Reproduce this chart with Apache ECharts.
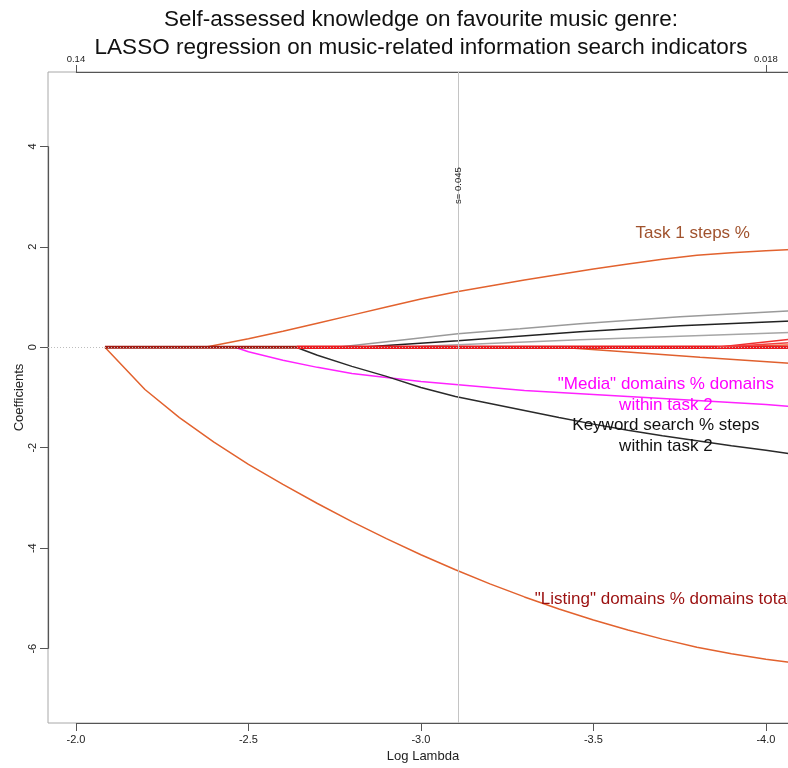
<!DOCTYPE html>
<html><head><meta charset="utf-8">
<script src="https://cdn.jsdelivr.net/npm/echarts@6/dist/echarts.min.js"></script>
<style>html,body{margin:0;padding:0;background:#fff;overflow:hidden;width:788px;height:768px}#c{width:798px;height:768px}</style>
</head><body><div id="c"></div>
<script>
// ---- text ----
const titleLines = ['Self-assessed knowledge on favourite music genre:', 'LASSO regression on music-related information search indicators'];
const xName = 'Log Lambda';
const yName = 'Coefficients';
// ---- axes ----
const xTicks = [-2.0, -2.5, -3.0, -3.5, -4.0];
const topTicks = [-2.0, -4.0];
const topTickLabels = ['0.14', '0.018'];
const yTicks = [-6, -4, -2, 0, 2, 4];
const xRange = [-4.093, -1.919];
const yRange = [-7.48, 5.48];
const sLogLambda = -3.108;
const sText = 's= 0.045';
// ---- coefficient paths (log lambda, coefficient) ----
const listingX = [-2.084,-2.2,-2.3,-2.4,-2.5,-2.6,-2.7,-2.8,-2.9,-3.0,-3.1,-3.2,-3.3,-3.4,-3.5,-3.6,-3.7,-3.8,-3.9,-4.0,-4.09];
const listingY = [0,-0.84,-1.40,-1.89,-2.33,-2.73,-3.11,-3.47,-3.81,-4.13,-4.43,-4.71,-4.97,-5.21,-5.43,-5.63,-5.81,-5.97,-6.10,-6.21,-6.29];
const task1X = [-2.374,-2.5,-2.6,-2.7,-2.8,-2.9,-3.0,-3.1,-3.2,-3.3,-3.4,-3.5,-3.6,-3.7,-3.8,-3.9,-4.0,-4.09];
const task1Y = [0,0.17,0.32,0.48,0.64,0.80,0.96,1.10,1.22,1.34,1.45,1.56,1.66,1.75,1.83,1.88,1.92,1.95];
const mediaX = [-2.461,-2.5,-2.6,-2.7,-2.8,-2.9,-3.0,-3.1,-3.2,-3.3,-3.4,-3.5,-3.6,-3.7,-3.8,-3.9,-4.0,-4.09];
const mediaY = [0,-0.09,-0.26,-0.40,-0.52,-0.60,-0.68,-0.74,-0.80,-0.86,-0.90,-0.94,-0.98,-1.02,-1.06,-1.10,-1.14,-1.19];
const keywordX = [-2.638,-2.7,-2.8,-2.9,-3.0,-3.1,-3.2,-3.3,-3.4,-3.5,-3.6,-3.7,-3.8,-3.9,-4.0,-4.09];
const keywordY = [0,-0.16,-0.38,-0.58,-0.80,-0.98,-1.12,-1.26,-1.40,-1.53,-1.65,-1.76,-1.86,-1.96,-2.05,-2.14];
const greyTopX = [-2.757,-2.939,-3.107,-3.287,-3.461,-3.751,-4.09];
const greyTopY = [0,0.14,0.27,0.37,0.47,0.61,0.73];
const blackUpX = [-2.823,-3.107,-3.461,-3.751,-4.09];
const blackUpY = [0,0.13,0.31,0.43,0.53];
const greyLowX = [-2.939,-3.107,-3.461,-3.751,-4.09];
const greyLowY = [0,0.05,0.15,0.22,0.30];
const orangeNegX = [-3.403,-3.548,-3.809,-4.09];
const orangeNegY = [0,-0.07,-0.20,-0.33];
const orangePosX = [-3.88,-4.09];
const orangePosY = [0,0.055];
const red1X = [-3.858,-4.09];
const red1Y = [0,0.175];
const red2X = [-3.858,-4.09];
const red2Y = [0,0.10];
const zeroDarkX = [-2.084,-2.64];
const zeroDarkY = [0,0];
const zeroRedX = [-2.64,-4.09];
const zeroRedY = [0,0];
// ---- path labels ----
const pathLabels = [
  {text: 'Task 1 steps %', x: -3.788, y: 2.26, color: '#A0522D', align: 'center'},
  {text: '"Media" domains % domains\nwithin task 2', x: -3.71, y: -0.94, color: '#FF00FF', align: 'center'},
  {text: 'Keyword search % steps\nwithin task 2', x: -3.71, y: -1.76, color: '#111111', align: 'center'},
  {text: '"Listing" domains % domains total', x: -3.330, y: -5.02, color: '#9B1010', align: 'left'}
];

const FONT = '"Liberation Sans", Arial, sans-serif';
const zip = (xs, ys) => xs.map((x, i) => [x, ys[i]]);
function path(xs, ys, color, width, z) {
  return {type: 'line', data: zip(xs, ys), symbol: 'none', showSymbol: false,
    lineStyle: {color: color, width: width}, z: z, silent: true, animation: false};
}

const chart = echarts.init(document.getElementById('c'), null, {renderer: 'canvas'});
const axisDark = '#555555';
const option = {
  animation: false,
  backgroundColor: '#ffffff',
  title: {
    text: titleLines.join('\n'), left: 416, top: 1, textAlign: 'center',
    textStyle: {fontFamily: FONT, fontSize: 22.5, fontWeight: 'normal', color: '#111', lineHeight: 28}
  },
  grid: {left: 48, right: 0, top: 72, bottom: 45, show: true, borderColor: '#a8a8a8', borderWidth: 1, backgroundColor: 'transparent'},
  xAxis: [{
    type: 'value', min: xRange[0], max: xRange[1], inverse: true, position: 'bottom',
    name: xName, nameLocation: 'middle', nameGap: 27, nameMoveOverlap: false,
    nameTextStyle: {fontFamily: FONT, fontSize: 13, color: '#222'},
    axisLine: {show: false, onZero: false}, splitLine: {show: false},
    axisTick: {show: true, length: 8, lineStyle: {color: axisDark}, customValues: xTicks},
    axisLabel: {fontFamily: FONT, fontSize: 11, color: '#222', margin: 11, customValues: xTicks,
      formatter: v => v.toFixed(1)}
  }, {
    type: 'value', min: xRange[0], max: xRange[1], inverse: true, position: 'top',
    axisLine: {show: false, onZero: false}, splitLine: {show: false},
    axisTick: {show: true, length: 7, lineStyle: {color: axisDark}, customValues: topTicks},
    axisLabel: {fontFamily: FONT, fontSize: 9.5, color: '#222', margin: 8, customValues: topTicks,
      formatter: v => topTickLabels[topTicks.indexOf(Math.round(v * 10) / 10)]}
  }],
  yAxis: {
    type: 'value', min: yRange[0], max: yRange[1],
    name: yName, nameLocation: 'middle', nameGap: 22, nameRotate: 90, nameMoveOverlap: false,
    nameTextStyle: {fontFamily: FONT, fontSize: 13, color: '#222'},
    axisLine: {show: false, onZero: false}, splitLine: {show: false},
    axisTick: {show: true, length: 8, lineStyle: {color: axisDark}, customValues: yTicks},
    axisLabel: {fontFamily: FONT, fontSize: 11, color: '#222', margin: 10, rotate: 90, customValues: yTicks,
      formatter: v => String(v)}
  },
  series: [
    // frame decorations: dark axis segments, dotted zero line, s line
    {type: 'line', data: [], clip: false, silent: true, z: 1,
      markLine: {silent: true, symbol: 'none', animation: false, label: {show: false},
        data: [
          [{coord: [xRange[1], yTicks[0]], lineStyle: {color: axisDark, width: 1.2, type: 'solid'}}, {coord: [xRange[1], yTicks[yTicks.length - 1]]}],
          [{coord: [xTicks[0], yRange[0]], lineStyle: {color: axisDark, width: 1.2, type: 'solid'}}, {coord: [xRange[0], yRange[0]]}],
          [{coord: [topTicks[0], yRange[1]], lineStyle: {color: axisDark, width: 1.2, type: 'solid'}}, {coord: [xRange[0], yRange[1]]}],
          [{coord: [xRange[1], 0], lineStyle: {color: '#bdbdbd', width: 1, type: [1, 2]}}, {coord: [xRange[0], 0]}],
          [{coord: [sLogLambda, yRange[0]], lineStyle: {color: '#c4c4c4', width: 1, type: 'solid'}}, {coord: [sLogLambda, yRange[1]]}]
        ]}},
    path(greyTopX, greyTopY, '#9a9a9a', 1.5, 2),
    path(greyLowX, greyLowY, '#a6a6a6', 1.5, 2),
    path(blackUpX, blackUpY, '#222222', 1.5, 3),
    path(orangeNegX, orangeNegY, '#E0602E', 1.5, 3),
    path(orangePosX, orangePosY, '#F08050', 1.5, 3),
    path(mediaX, mediaY, '#FF22FF', 1.5, 3),
    path(keywordX, keywordY, '#2a2a2a', 1.5, 3),
    path(task1X, task1Y, '#E2622E', 1.5, 3),
    path(listingX, listingY, '#E2622E', 1.5, 3),
    path(zeroDarkX, zeroDarkY, '#A21A12', 3, 4),
    path(zeroRedX, zeroRedY, '#EC1C20', 3.5, 4),
    path(red1X, red1Y, '#F03030', 1.5, 4),
    path(red2X, red2Y, '#F24040', 1.5, 4)
  ]
};
chart.setOption(option);

// texts placed in data coordinates
const gfx = [];
pathLabels.forEach(l => {
  const p = chart.convertToPixel({xAxisIndex: 0, yAxisIndex: 0}, [l.x, l.y]);
  gfx.push({type: 'text', x: p[0], y: p[1], z: 20, silent: true,
    style: {text: l.text, fill: l.color, font: '17px ' + FONT, align: l.align, verticalAlign: 'middle', lineHeight: 21}});
});
const sp = chart.convertToPixel({xAxisIndex: 0, yAxisIndex: 0}, [sLogLambda, 3.22]);
gfx.push({type: 'text', x: sp[0], y: sp[1], rotation: Math.PI / 2, z: 20, silent: true,
  style: {text: sText, fill: '#222', font: '9.5px ' + FONT, align: 'center', verticalAlign: 'middle'}});
chart.setOption({graphic: gfx});
</script>
</body></html>
